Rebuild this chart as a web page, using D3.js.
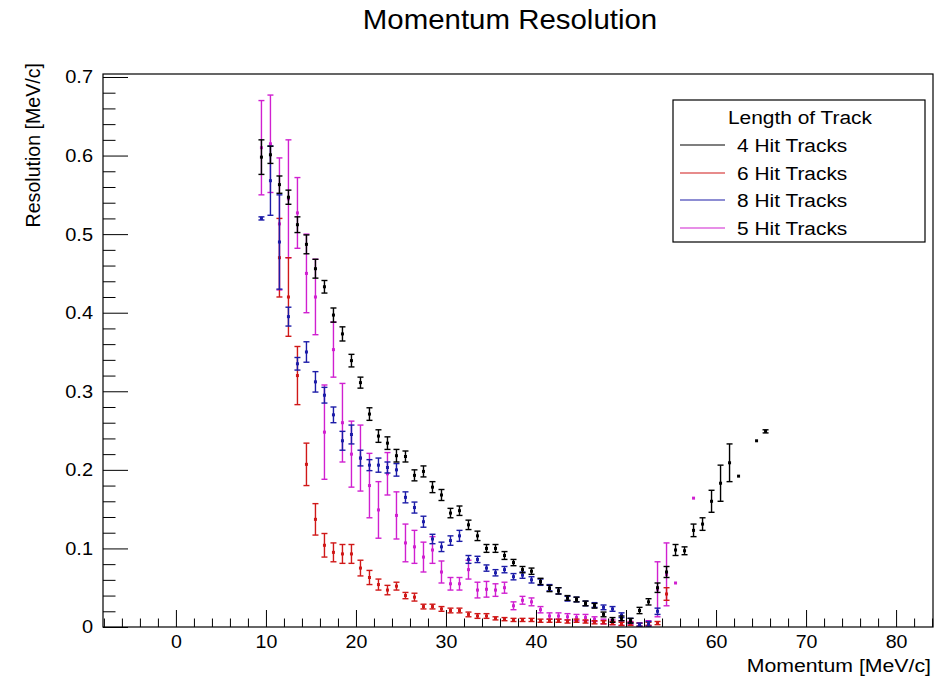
<!DOCTYPE html>
<html>
<head>
<meta charset="utf-8">
<script src="https://cdn.jsdelivr.net/npm/d3@7"></script>
<style>
  html, body { margin: 0; padding: 0; background: #fff; }
  svg text { font-family: "Liberation Sans", Arial, Helvetica, sans-serif; fill: #000; }
</style>
</head>
<body>
<svg id="chart" width="949" height="678"></svg>
<script>
// ---------------- data ----------------
const chartTitle = "Momentum Resolution";
const xTitle = "Momentum [MeV/c]";
const yTitle = "Resolution [MeV/c]";
const legendTitle = "Length of Track";
const seriesNames = ["4 Hit Tracks", "6 Hit Tracks", "8 Hit Tracks", "5 Hit Tracks"];
const seriesColors = ["#000000", "#d01818", "#1c1ca8", "#d020d0"];

const xMajorTicks = [0, 10, 20, 30, 40, 50, 60, 70, 80];
const yMajorTicks = [0, 0.1, 0.2, 0.3, 0.4, 0.5, 0.6, 0.7];

// 4 Hit Tracks (black)
const x4 = [9.5,10.5,11.5,12.5,13.5,14.5,15.5,16.5,17.5,18.5,19.5,20.5,21.5,22.5,23.5,24.5,25.5,26.5,27.5,28.5,29.5,30.5,31.5,32.5,33.5,34.5,35.5,36.5,37.5,38.5,39.5,40.5,41.5,42.5,43.5,44.5,45.5,46.5,47.5,48.5,49.5,50.5,51.5,52.5,53.5,54.5,55.5,56.5,57.5,58.5,59.5,60.5,61.5,62.5,64.5,65.5];
const y4 = [0.598,0.601,0.563,0.547,0.512,0.487,0.456,0.433,0.397,0.373,0.339,0.311,0.271,0.243,0.234,0.218,0.217,0.193,0.198,0.178,0.168,0.145,0.148,0.130,0.116,0.100,0.100,0.091,0.082,0.073,0.071,0.058,0.049,0.046,0.037,0.035,0.030,0.027,0.016,0.009,0.011,0.008,0.021,0.032,0.050,0.070,0.098,0.097,0.123,0.131,0.160,0.183,0.209,0.192,0.237,0.249];
const e4 = [0.022,0.011,0.011,0.009,0.010,0.012,0.012,0.008,0.009,0.009,0.008,0.007,0.008,0.008,0.008,0.008,0.007,0.007,0.007,0.007,0.007,0.006,0.006,0.006,0.006,0.005,0.005,0.005,0.004,0.004,0.004,0.004,0.004,0.004,0.003,0.003,0.003,0.003,0.003,0.003,0.003,0.003,0.004,0.004,0.006,0.007,0.007,0.005,0.008,0.008,0.014,0.023,0.024,0,0,0.002];

// 6 Hit Tracks (red)
const x6 = [11.5,12.5,13.5,14.5,15.5,16.5,17.5,18.5,19.5,20.5,21.5,22.5,23.5,24.5,25.5,26.5,27.5,28.5,29.5,30.5,31.5,32.5,33.5,34.5,35.5,36.5,37.5,38.5,39.5,40.5,41.5,42.5,43.5,44.5,45.5,46.5,47.5,48.5,49.5,50.5,51.5,52.5,53.5,54.5];
const y6 = [0.470,0.420,0.320,0.207,0.137,0.104,0.095,0.093,0.093,0.075,0.063,0.054,0.047,0.052,0.040,0.038,0.026,0.026,0.023,0.021,0.021,0.016,0.014,0.014,0.011,0.010,0.009,0.009,0.009,0.008,0.008,0.008,0.007,0.008,0.007,0.006,0.006,0.005,0.004,0.004,0.003,0.004,0.005,0.042];
const e6 = [0.050,0.050,0.037,0.027,0.020,0.015,0.012,0.012,0.012,0.010,0.009,0.007,0.006,0.005,0.004,0.005,0.003,0.003,0.003,0.003,0.003,0.003,0.003,0.003,0.002,0.002,0.002,0.002,0.002,0.002,0.002,0.002,0.002,0.002,0.002,0.002,0.002,0.002,0.002,0.002,0.002,0.002,0.002,0.008];

// 8 Hit Tracks (blue)
const x8 = [9.5,10.5,11.5,12.5,13.5,14.5,15.5,16.5,17.5,18.5,19.5,20.5,21.5,22.5,23.5,24.5,25.5,26.5,27.5,28.5,29.5,30.5,31.5,32.5,33.5,34.5,35.5,36.5,37.5,38.5,39.5,40.5,41.5,42.5,43.5,44.5,45.5,46.5,47.5,48.5,49.5,50.5,51.5,52.5,53.5];
const y8 = [0.520,0.568,0.490,0.395,0.335,0.350,0.312,0.295,0.270,0.237,0.245,0.215,0.206,0.206,0.203,0.200,0.165,0.152,0.134,0.112,0.102,0.110,0.116,0.086,0.086,0.075,0.069,0.073,0.064,0.066,0.060,0.057,0.050,0.046,0.036,0.035,0.030,0.028,0.025,0.023,0.015,0.008,0.003,0.004,0.020];
const e8 = [0.002,0.044,0.060,0.012,0.008,0.013,0.013,0.010,0.010,0.012,0.012,0.010,0.007,0.009,0.007,0.008,0.007,0.007,0.007,0.006,0.006,0.006,0.007,0.005,0.004,0.004,0.004,0.004,0.004,0.004,0.004,0.004,0.004,0.004,0.003,0.003,0.003,0.003,0.003,0.003,0.003,0.003,0.002,0.003,0.004];

// 5 Hit Tracks (magenta)
const x5 = [9.5,10.5,11.5,12.5,13.5,14.5,15.5,16.5,17.5,18.5,19.5,20.5,21.5,22.5,23.5,24.5,25.5,26.5,27.5,28.5,29.5,30.5,31.5,32.5,33.5,34.5,35.5,36.5,37.5,38.5,39.5,40.5,41.5,42.5,43.5,44.5,45.5,46.5,47.5,48.5,49.5,50.5,51.5,52.5,53.5,54.5,55.5,57.5];
const y5 = [0.610,0.615,0.513,0.545,0.527,0.450,0.420,0.248,0.353,0.260,0.220,0.215,0.180,0.149,0.195,0.142,0.107,0.102,0.089,0.098,0.070,0.055,0.055,0.073,0.047,0.048,0.047,0.050,0.027,0.034,0.032,0.022,0.014,0.014,0.013,0.012,0.012,0.010,0.007,0.006,0.005,0.005,0.003,0.005,0.048,0.067,0.056,0.164];
const e5 = [0.060,0.062,0.084,0.075,0.045,0.050,0.048,0.060,0.035,0.050,0.042,0.042,0.041,0.036,0.027,0.030,0.024,0.021,0.019,0.017,0.014,0.008,0.008,0.012,0.010,0.010,0.008,0.007,0.005,0.005,0.005,0.004,0.004,0.004,0.004,0.004,0.004,0.003,0.003,0.003,0.003,0.002,0.002,0.003,0.035,0.040,0,0];

// ---------------- drawing ----------------
const svg = d3.select("#chart");
const W = 949, H = 678;
const frame = {left: 103, right: 933, top: 74, bottom: 627};

const x = d3.scaleLinear().domain([-8.1, 84.1]).range([frame.left, frame.right]);
const y = d3.scaleLinear().domain([0, 0.7038]).range([frame.bottom, frame.top]);

svg.append("rect").attr("x", 0).attr("y", 0).attr("width", W).attr("height", H).attr("fill", "#fff");

function stretchedText(parent, tx, ty, txt, size, sx, anchor) {
  const g = parent.append("g").attr("transform", `translate(${tx},${ty}) scale(${sx},1)`);
  return g.append("text").attr("x", 0).attr("y", 0).attr("text-anchor", anchor)
    .attr("font-size", size).text(txt);
}
stretchedText(svg, 510, 29, chartTitle, 27, 1.09, "middle");

// data series (drawn so black ends on top)
const seriesData = [
  {name: seriesNames[3], color: seriesColors[3], xs: x5, ys: y5, es: e5},
  {name: seriesNames[1], color: seriesColors[1], xs: x6, ys: y6, es: e6},
  {name: seriesNames[2], color: seriesColors[2], xs: x8, ys: y8, es: e8},
  {name: seriesNames[0], color: seriesColors[0], xs: x4, ys: y4, es: e4}
];

const plot = svg.append("g");
seriesData.forEach(s => {
  const pts = s.xs.map((xv, i) => ({x: xv, y: s.ys[i], e: s.es[i]}));
  const g = plot.append("g").attr("stroke", s.color).attr("fill", s.color);
  const capW = 3;
  pts.forEach(p => {
    const px = x(p.x);
    if (p.e > 0) {
      const y1 = y(Math.max(0, p.y - p.e)), y2 = y(p.y + p.e);
      g.append("line").attr("x1", px).attr("x2", px).attr("y1", y1).attr("y2", y2).attr("stroke-width", 1.4);
      g.append("line").attr("x1", px - capW).attr("x2", px + capW).attr("y1", y1).attr("y2", y1).attr("stroke-width", 1.4);
      g.append("line").attr("x1", px - capW).attr("x2", px + capW).attr("y1", y2).attr("y2", y2).attr("stroke-width", 1.4);
    }
    g.append("rect").attr("x", px - 1.5).attr("y", y(p.y) - 1.5).attr("width", 3).attr("height", 3).attr("stroke", "none");
  });
});

// axes
const xMinor = d3.range(-8, 85, 2).filter(v => v % 10 !== 0);
const yMinor = d3.range(0, 0.70001, 0.02).map(v => +v.toFixed(2)).filter(v => Math.round(v * 100) % 10 !== 0);

const xAxisG = svg.append("g").attr("transform", `translate(0,${frame.bottom})`);
xAxisG.append("g").call(d3.axisBottom(x).tickValues(xMinor).tickSizeInner(-8.5).tickSizeOuter(0).tickFormat(""))
  .call(g => g.select(".domain").remove());
xAxisG.append("g").call(d3.axisBottom(x).tickValues(xMajorTicks).tickSizeInner(-17).tickSizeOuter(0).tickPadding(8).tickFormat(d3.format("d")))
  .call(g => g.select(".domain").remove())
  .call(g => g.selectAll("text").attr("font-size", 18.5).attr("font-family", "Liberation Sans, Arial, sans-serif").attr("transform", "scale(1.06,1)"));

const yAxisG = svg.append("g").attr("transform", `translate(${frame.left},0)`);
yAxisG.append("g").call(d3.axisLeft(y).tickValues(yMinor).tickSizeInner(-12.5).tickSizeOuter(0).tickFormat(""))
  .call(g => g.select(".domain").remove());
yAxisG.append("g").call(d3.axisLeft(y).tickValues(yMajorTicks).tickSizeInner(-25).tickSizeOuter(0).tickPadding(10)
    .tickFormat(d => d === 0 ? "0" : d.toFixed(1)))
  .call(g => g.select(".domain").remove())
  .call(g => g.selectAll("text").attr("font-size", 18.5).attr("font-family", "Liberation Sans, Arial, sans-serif")
    .attr("transform", "translate(-10,0) scale(1.08,1) translate(10,0)"));

svg.selectAll(".tick line").attr("stroke", "#000").attr("stroke-width", 1);

// frame
svg.append("rect").attr("x", frame.left).attr("y", frame.top)
  .attr("width", frame.right - frame.left).attr("height", frame.bottom - frame.top)
  .attr("fill", "none").attr("stroke", "#000").attr("stroke-width", 1.2);

// axis titles
stretchedText(svg, 931, 672, xTitle, 19, 1.12, "end");
svg.append("text").attr("transform", "translate(40,63) rotate(-90)")
  .attr("text-anchor", "end").attr("font-size", 19.6).text(yTitle);

// legend
const leg = svg.append("g");
leg.append("rect").attr("x", 673).attr("y", 100).attr("width", 252).attr("height", 142)
  .attr("fill", "#fff").attr("stroke", "#000").attr("stroke-width", 1.2);
stretchedText(leg, 800, 124, legendTitle, 19, 1.1, "middle");
const legRows = [145, 173, 200, 228];
seriesNames.forEach((n, i) => {
  leg.append("line").attr("x1", 680).attr("x2", 725).attr("y1", legRows[i]).attr("y2", legRows[i])
    .attr("stroke", seriesColors[i]).attr("stroke-width", 1.2);
  stretchedText(leg, 737, legRows[i] + 7, n, 19, 1.1, "start");
});
</script>
</body>
</html>
